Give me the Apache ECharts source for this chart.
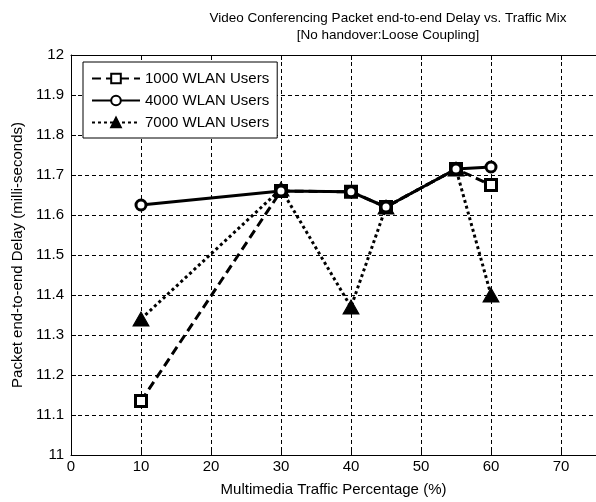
<!DOCTYPE html>
<html>
<head>
<meta charset="utf-8">
<script src="https://cdn.jsdelivr.net/npm/echarts@6/dist/echarts.min.js"></script>
<style>html,body{margin:0;padding:0;background:#fff;}#c{width:596px;height:502px;}</style>
</head>
<body>
<div id="c"></div>
<script>
const titleLines = ['Video Conferencing Packet end-to-end Delay vs. Traffic Mix', '[No handover:Loose Coupling]'];
const xName = 'Multimedia Traffic Percentage (%)';
const yName = 'Packet end-to-end Delay (milli-seconds)';
const seriesNames = ['1000 WLAN Users', '4000 WLAN Users', '7000 WLAN Users'];
const xValues = [10, 30, 40, 45, 55, 60];
const users1000 = [11.135, 11.66, 11.658, 11.62, 11.715, 11.675];
const users4000 = [11.625, 11.66, 11.658, 11.62, 11.715, 11.72];
const users7000 = [11.34, 11.665, 11.37, 11.62, 11.715, 11.40];

const FONT = '"Liberation Sans", Arial, sans-serif';
const pairs = arr => xValues.map((x, i) => [x, arr[i]]);
const chart = echarts.init(document.getElementById('c'), null, {renderer: 'canvas'});
const gridLine = {show: true, lineStyle: {color: '#000', type: [4, 3], width: 1}};
chart.setOption({
  animation: false,
  backgroundColor: '#fff',
  title: {
    text: titleLines.join('\n'),
    left: 383, top: 5, textAlign: 'center',
    textStyle: {fontFamily: FONT, fontSize: 13.5, fontWeight: 'normal', color: '#000', lineHeight: 17}
  },
  grid: {left: 71, top: 55, width: 526, height: 400, containLabel: false},
  legend: {
    orient: 'vertical', left: 83, top: 62,
    itemWidth: 48, itemHeight: 12, itemGap: 7,
    padding: [9, 8, 8, 8],
    borderColor: '#000', borderWidth: 1, backgroundColor: '#fff',
    textStyle: {fontFamily: FONT, fontSize: 15, color: '#000'},
    data: seriesNames
  },
  xAxis: [{
    type: 'value', min: 0, max: 75, interval: 10,
    name: xName, nameLocation: 'middle', nameGap: 27,
    nameTextStyle: {fontFamily: FONT, fontSize: 15, color: '#000'},
    axisLine: {show: true, onZero: false, lineStyle: {color: '#000', width: 1}},
    axisTick: {show: true, inside: true, length: 5, lineStyle: {color: '#000'}},
    axisLabel: {fontFamily: FONT, fontSize: 15, color: '#000', margin: 4, showMaxLabel: false},
    splitLine: gridLine
  }, {
    type: 'value', min: 0, max: 75, interval: 10, position: 'top',
    axisLine: {show: true, lineStyle: {color: '#000', width: 1}},
    axisTick: {show: true, inside: true, length: 5, lineStyle: {color: '#000'}},
    axisLabel: {show: false}, splitLine: {show: false}
  }],
  yAxis: {
    type: 'value', min: 11, max: 12, interval: 0.1,
    name: yName, nameLocation: 'middle', nameGap: 45, nameRotate: 90,
    nameTextStyle: {fontFamily: FONT, fontSize: 15, color: '#000'},
    axisLine: {show: true, onZero: false, lineStyle: {color: '#000', width: 1}},
    axisTick: {show: true, inside: true, length: 5, lineStyle: {color: '#000'}},
    axisLabel: {fontFamily: FONT, fontSize: 15, color: '#000', margin: 7,
      formatter: v => String(parseFloat(v.toFixed(1)))},
    splitLine: gridLine
  },
  series: [{
    name: seriesNames[0], type: 'line', data: pairs(users1000), z: 3,
    symbol: 'rect', symbolSize: 11,
    lineStyle: {color: '#000', width: 3, type: [9, 5]},
    itemStyle: {color: '#fff', borderColor: '#000', borderWidth: 3}
  }, {
    name: seriesNames[1], type: 'line', data: pairs(users4000), z: 4,
    symbol: 'circle', symbolSize: 10,
    lineStyle: {color: '#000', width: 3, type: 'solid'},
    itemStyle: {color: '#fff', borderColor: '#000', borderWidth: 3}
  }, {
    name: seriesNames[2], type: 'line', data: pairs(users7000), z: 2,
    symbol: 'triangle', symbolSize: [16, 14],
    lineStyle: {color: '#000', width: 3, type: [3, 3]},
    itemStyle: {color: '#000', borderColor: '#000', borderWidth: 1}
  }]
});
</script>
</body>
</html>
